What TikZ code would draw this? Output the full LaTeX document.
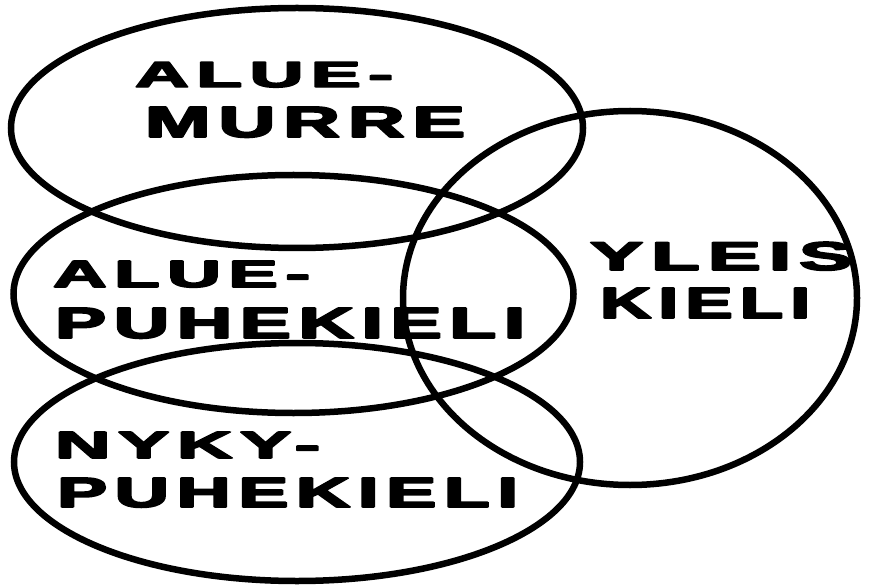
\documentclass[tikz,border=0pt]{standalone}
\usepackage{fontspec}
\usepackage{graphicx}
\newfontfamily\lblfont[LetterSpace=10]{Liberation Sans Bold}
\tikzset{
  ring/.style={draw=black, line width=6.5pt},
  lbl/.style={anchor=north west, inner sep=0pt, outer sep=0pt}
}
\newcommand{\lbltext}[3]{\resizebox{#1pt}{#2pt}{\special{pdf:literal direct 2 Tr 0.4 w 1 j}\lblfont #3\special{pdf:literal direct 0 Tr 0 j}}}
\begin{document}
\begin{tikzpicture}[x=1pt,y=-1pt]
\fill[white] (0,0) rectangle (872,585);
\useasboundingbox (0,0) rectangle (872,585);
% ellipses
\draw[ring] (297,128) ellipse [x radius=286, y radius=120];
\draw[ring] (293.5,294) ellipse [x radius=280, y radius=119];
\draw[ring] (297,462) ellipse [x radius=283, y radius=119];
\draw[ring] (630,298) ellipse [x radius=227, y radius=187];
% labels
\node[lbl] (t1) at (135,62) {\lbltext{258}{25}{ALUE-}};
\node[lbl] (t2) at (145,107) {\lbltext{320}{30}{MURRE}};
\node[lbl] (t3) at (53,261) {\lbltext{257}{26}{ALUE-}};
\node[lbl] (t4) at (55,308) {\lbltext{470}{30}{PUHEKIELI}};
\node[lbl] (t5) at (55,432) {\lbltext{265}{26}{NYKY-}};
\node[lbl] (t6) at (57,478) {\lbltext{461}{29}{PUHEKIELI}};
\node[lbl] (t7) at (590,242) {\lbltext{262}{28}{YLEIS}};
\node[lbl] (t8) at (600,288) {\lbltext{210}{30}{KIELI}};
\end{tikzpicture}
\end{document}
